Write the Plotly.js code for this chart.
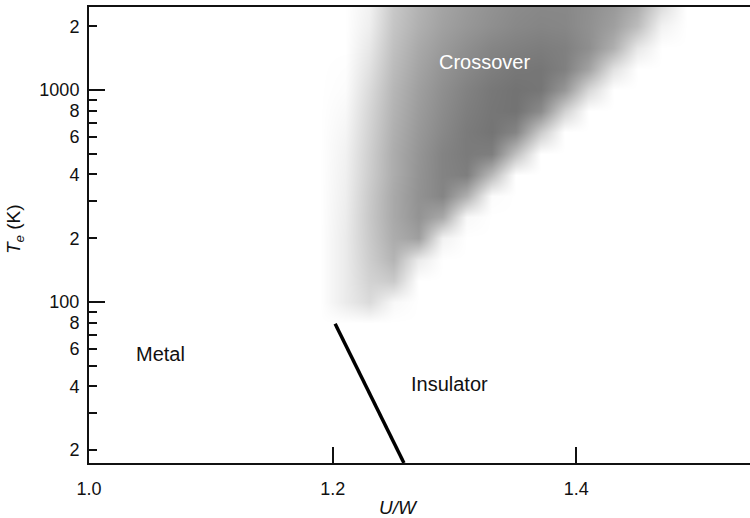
<!DOCTYPE html>
<html>
<head>
<meta charset="utf-8">
<script src="https://cdn.plot.ly/plotly-3.0.1.min.js"></script>
<style>
  html, body { margin: 0; padding: 0; background: #ffffff; }
  #chart { width: 750px; height: 518px; }
</style>
</head>
<body>
<div id="chart"></div>
<script>
// Grid of the crossover map: interaction strength U/W (columns) and electronic temperature T_e in K (rows)
const uwGrid = [1.19, 1.21, 1.23, 1.25, 1.27, 1.29, 1.31, 1.33, 1.35, 1.37,
                1.39, 1.41, 1.43, 1.45, 1.47, 1.49, 1.51, 1.53, 1.55];
const tGrid = [79.4, 100, 125.9, 158.5, 199.5, 251.2, 316.2, 398.1,
               501.2, 631.0, 794.3, 1000, 1258.9, 1584.9, 1995.3, 2511.9];

// Crossover intensity (0 = none, 1 = strongest), one row per temperature in tGrid
const crossover = [
  [0, 0,    0,    0,    0,    0,    0,    0,    0,    0,    0,    0,    0,    0,    0,    0, 0, 0, 0],
  [0, 0.12, 0.22, 0.04, 0,    0,    0,    0,    0,    0,    0,    0,    0,    0,    0,    0, 0, 0, 0],
  [0, 0.12, 0.27, 0.32, 0,    0,    0,    0,    0,    0,    0,    0,    0,    0,    0,    0, 0, 0, 0],
  [0, 0.12, 0.30, 0.45, 0.12, 0,    0,    0,    0,    0,    0,    0,    0,    0,    0,    0, 0, 0, 0],
  [0, 0.12, 0.32, 0.50, 0.58, 0.08, 0,    0,    0,    0,    0,    0,    0,    0,    0,    0, 0, 0, 0],
  [0, 0.11, 0.33, 0.52, 0.65, 0.52, 0.04, 0,    0,    0,    0,    0,    0,    0,    0,    0, 0, 0, 0],
  [0, 0.10, 0.32, 0.52, 0.66, 0.74, 0.48, 0.02, 0,    0,    0,    0,    0,    0,    0,    0, 0, 0, 0],
  [0, 0.09, 0.30, 0.50, 0.65, 0.75, 0.78, 0.42, 0,    0,    0,    0,    0,    0,    0,    0, 0, 0, 0],
  [0, 0.08, 0.29, 0.50, 0.64, 0.75, 0.80, 0.78, 0.38, 0,    0,    0,    0,    0,    0,    0, 0, 0, 0],
  [0, 0.06, 0.27, 0.48, 0.62, 0.72, 0.80, 0.84, 0.74, 0.32, 0,    0,    0,    0,    0,    0, 0, 0, 0],
  [0, 0.04, 0.25, 0.46, 0.60, 0.70, 0.78, 0.83, 0.85, 0.70, 0.28, 0,    0,    0,    0,    0, 0, 0, 0],
  [0, 0.02, 0.22, 0.44, 0.58, 0.68, 0.76, 0.82, 0.85, 0.83, 0.63, 0.24, 0,    0,    0,    0, 0, 0, 0],
  [0, 0.01, 0.18, 0.41, 0.55, 0.65, 0.72, 0.78, 0.82, 0.83, 0.77, 0.56, 0.18, 0,    0,    0, 0, 0, 0],
  [0, 0,    0.14, 0.38, 0.52, 0.61, 0.68, 0.74, 0.77, 0.79, 0.77, 0.68, 0.48, 0.14, 0,    0, 0, 0, 0],
  [0, 0,    0.10, 0.35, 0.48, 0.57, 0.63, 0.68, 0.72, 0.74, 0.73, 0.67, 0.58, 0.40, 0.08, 0, 0, 0, 0],
  [0, 0,    0.08, 0.33, 0.46, 0.55, 0.61, 0.66, 0.70, 0.72, 0.72, 0.68, 0.62, 0.50, 0.22, 0, 0, 0, 0]
];

// First-order metal-insulator transition line
const transitionUW = [1.202, 1.2585];
const transitionT = [79, 17.4];

// Axis ticks
const uwTicks = [1.0, 1.2, 1.4];
const uwTickText = ['1.0', '1.2', '1.4'];
const tTicks = [20, 30, 40, 50, 60, 70, 80, 90, 100,
                200, 300, 400, 500, 600, 700, 800, 900, 1000, 2000];
const tTickText = ['2', '', '4', '', '6', '', '8', '', '100',
                   '2', '', '4', '', '6', '', '8', '', '1000', '2'];
const tDecades = [100, 1000];

// Region labels
const regionNames = ['Metal', 'Insulator', 'Crossover'];
const regionUW = [1.059, 1.296, 1.3245];
const regionT = [57, 41, 1356];
const regionColors = ['#111111', '#111111', '#ffffff'];

const FONT = '"Liberation Sans", Arial, Helvetica, sans-serif';
const uwRange = [1.0, 1.5425];
const tRange = [Math.log10(17.4), Math.log10(2464)];

const traces = [
  {
    type: 'heatmap',
    x: uwGrid,
    y: tGrid,
    z: crossover,
    zmin: 0,
    zmax: 1,
    zsmooth: 'best',
    colorscale: [[0, 'rgb(255,255,255)'], [1, 'rgb(90,90,90)']],
    showscale: false,
    hoverinfo: 'skip'
  },
  {
    type: 'scatter',
    mode: 'lines',
    x: transitionUW,
    y: transitionT,
    yaxis: 'y2',
    line: { color: '#000000', width: 3.5 },
    showlegend: false,
    hoverinfo: 'skip'
  }
];

const annotations = regionNames.map((name, i) => ({
  x: regionUW[i], y: Math.log10(regionT[i]), xref: 'x', yref: 'y',
  text: name, showarrow: false,
  font: { family: FONT, size: 20, color: regionColors[i] }
}));

annotations.push({
  xref: 'paper', yref: 'paper', x: 0.4675, y: -0.097,
  text: '<i>U/W</i>', showarrow: false, xanchor: 'center', yanchor: 'middle',
  font: { family: FONT, size: 19, color: '#111111' }
});
annotations.push({
  xref: 'paper', yref: 'paper', x: -0.112, y: 0.513,
  text: '<i>T</i><sub><i>e</i></sub> (K)', showarrow: false, textangle: -90,
  xanchor: 'center', yanchor: 'middle',
  font: { family: FONT, size: 19, color: '#111111' }
});

const layout = {
  width: 750,
  height: 518,
  margin: { l: 89, r: 0, t: 7, b: 55 },
  paper_bgcolor: '#ffffff',
  plot_bgcolor: '#ffffff',
  showlegend: false,
  font: { family: FONT, size: 18, color: '#111111' },
  xaxis: {
    range: uwRange,
    tickmode: 'array',
    tickvals: uwTicks,
    ticktext: uwTickText,
    ticks: 'inside',
    ticklen: 16,
    tickwidth: 2,
    tickcolor: '#111111',
    showline: true,
    linewidth: 2,
    linecolor: '#111111',
    mirror: true,
    showgrid: false,
    zeroline: false,
    ticklabelstandoff: 8,
    tickfont: { family: FONT, size: 18, color: '#111111' }
  },
  yaxis: {
    type: 'log',
    range: tRange,
    tickmode: 'array',
    tickvals: tTicks,
    ticktext: tTickText,
    ticks: 'inside',
    ticklen: 8,
    tickwidth: 2,
    tickcolor: '#111111',
    showline: true,
    linewidth: 2,
    linecolor: '#111111',
    showgrid: false,
    zeroline: false,
    ticklabelstandoff: 4,
    tickfont: { family: FONT, size: 18, color: '#111111' }
  },
  yaxis2: {
    type: 'log',
    range: tRange,
    overlaying: 'y',
    side: 'left',
    anchor: 'x',
    tickmode: 'array',
    tickvals: tDecades,
    ticks: 'inside',
    ticklen: 16,
    tickwidth: 2,
    tickcolor: '#111111',
    showticklabels: false,
    showline: false,
    showgrid: false,
    zeroline: false
  },
  annotations: annotations
};

Plotly.newPlot('chart', traces, layout, { staticPlot: true, displayModeBar: false });
</script>
</body>
</html>
